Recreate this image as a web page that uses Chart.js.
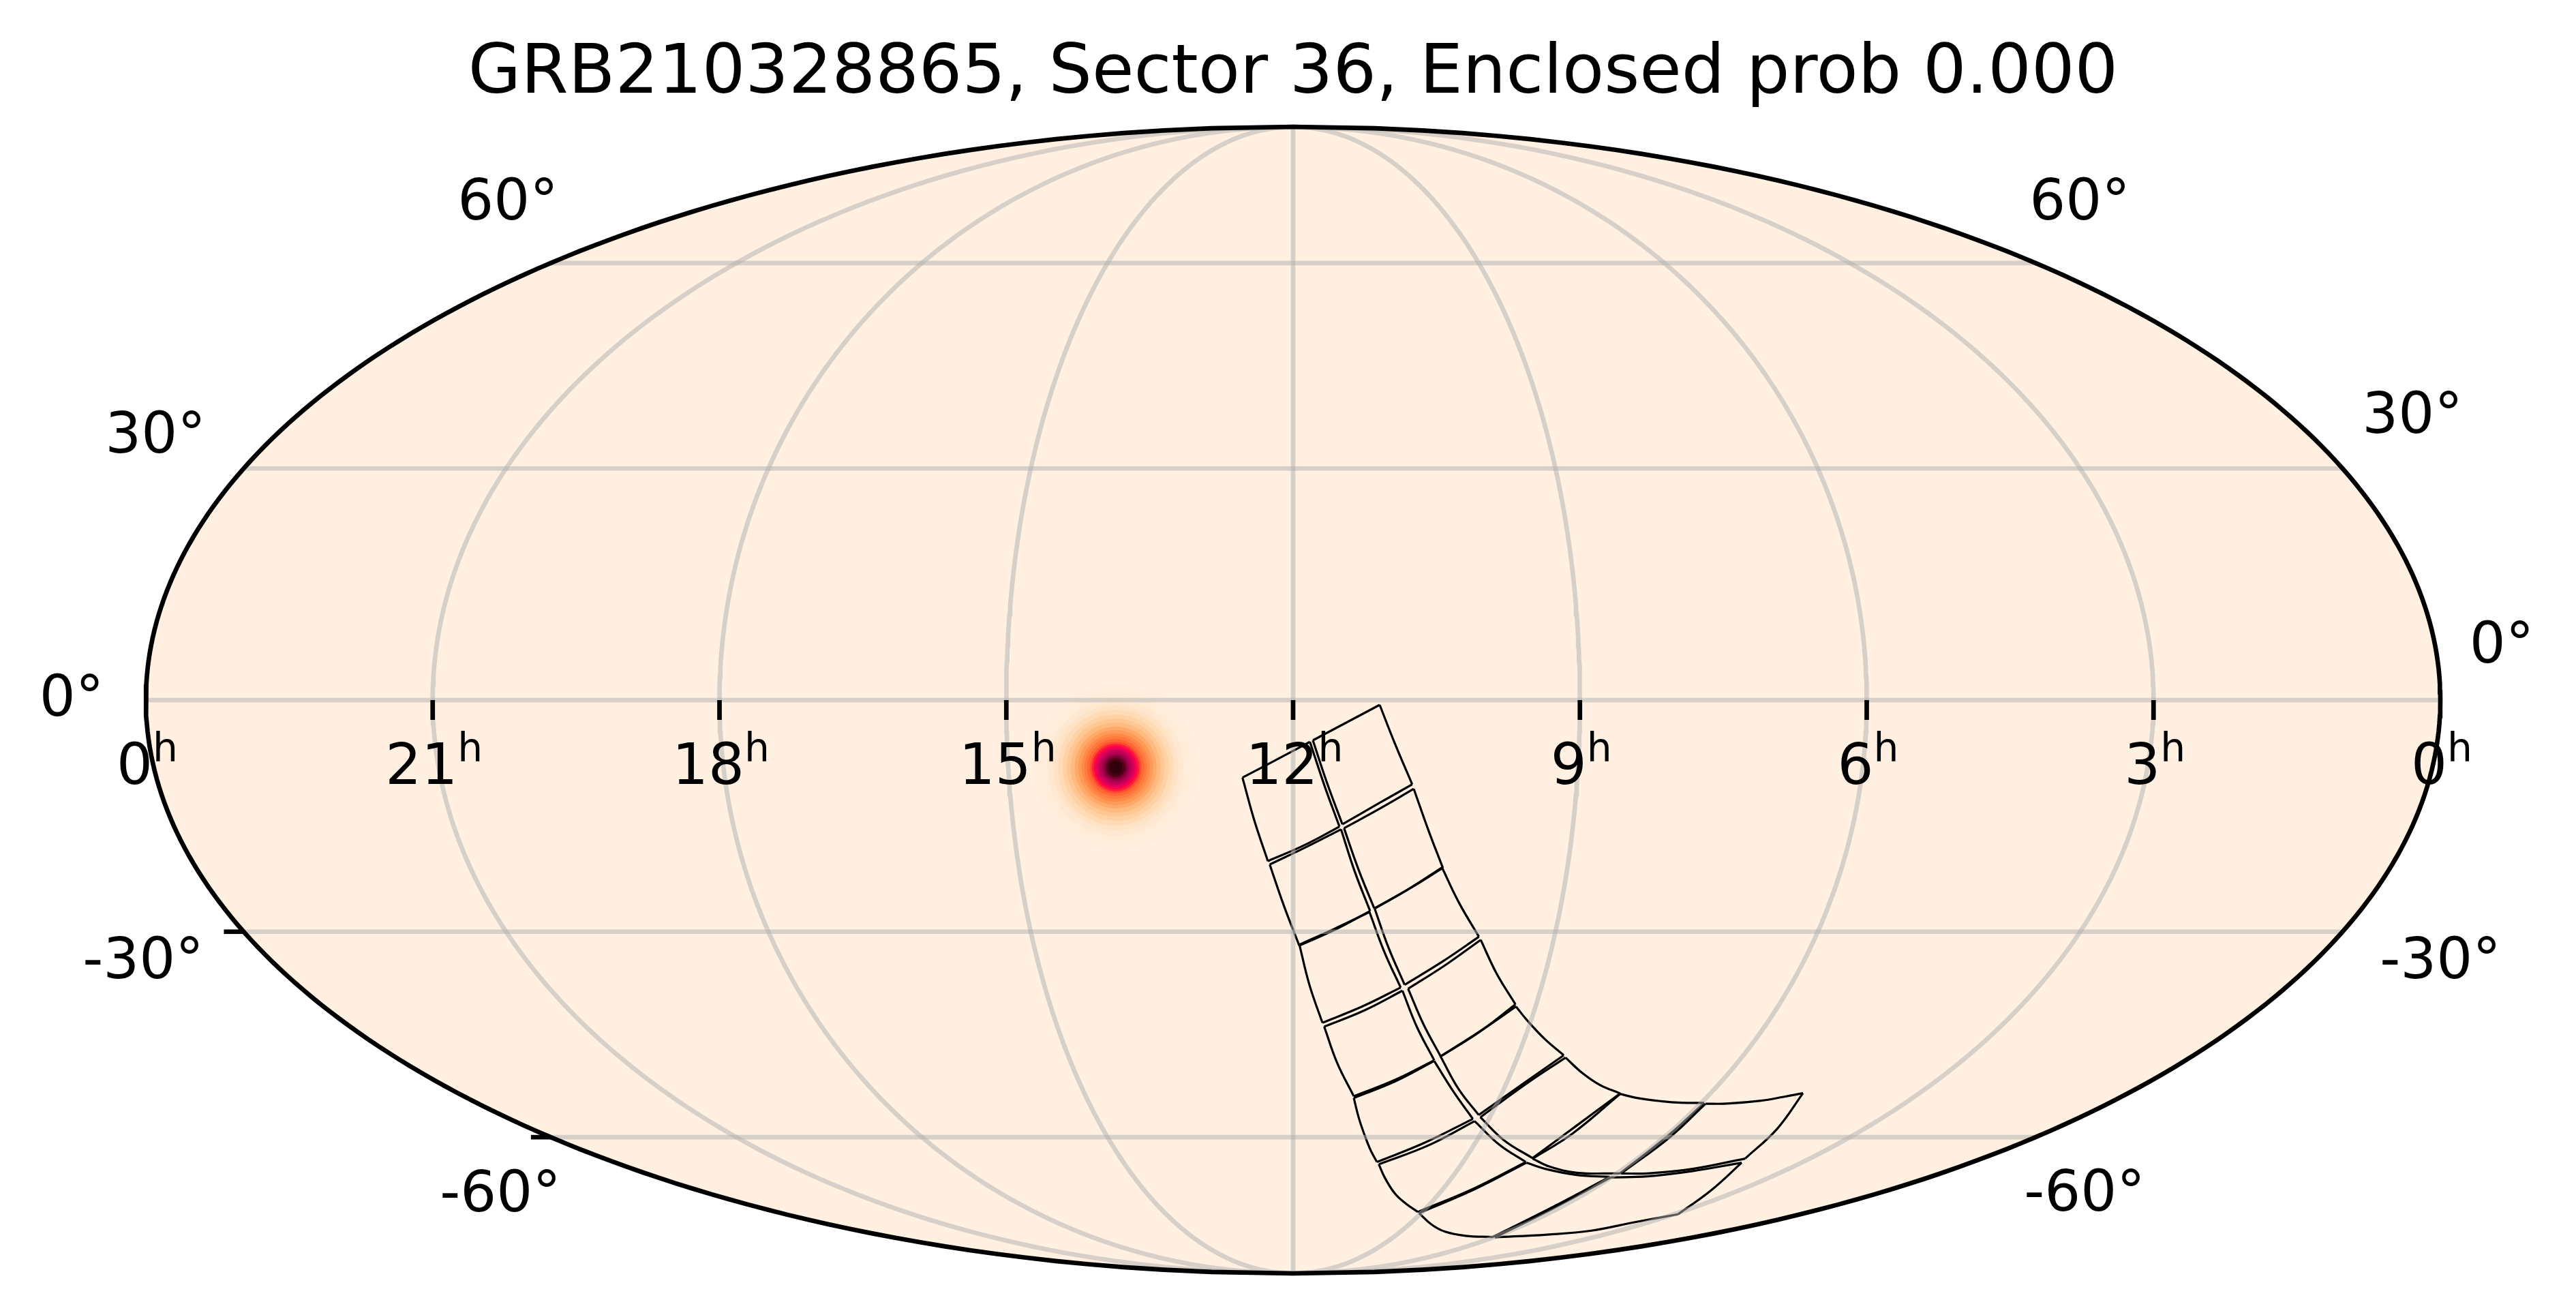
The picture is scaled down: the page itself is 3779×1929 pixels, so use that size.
<!DOCTYPE html>
<html>
<head>
<meta charset="utf-8">
<title>GRB210328865</title>
<script src="https://cdn.jsdelivr.net/npm/chart.js@4/dist/chart.umd.min.js"></script>
<style>
html, body { margin: 0; background: #fff; }
canvas { display: block; }
</style>
</head>
<body>
<canvas id="skyChart" width="3779" height="1929"></canvas>
<script>
const titleText = 'GRB210328865, Sector 36, Enclosed prob 0.000';

// graticule
const raGridHours = [3, 6, 9, 12, 15, 18, 21];
const decGridDegrees = [-60, -30, 0, 30, 60];
const raTickHours = [21, 18, 15, 12, 9, 6, 3];
const raLabelHours = [0, 21, 18, 15, 12, 9, 6, 3, 0];
const decTickDegrees = [-30, -60];

// dec labels in map units (x centre, y baseline)
const decLabelText = ['60°', '30°', '0°', '-30°', '-60°', '60°', '30°', '0°', '-30°', '-60°'];
const decLabelX = [-1152, -1669, -1792, -1687, -1163, 1154, 1642, 1773, 1683, 1161];
const decLabelY = [705, 363, -23, -408, -750, 705, 392, 55, -408, -749];

// probability blob, read ring by ring from the picture
const blobCentre = { x: -260.3, y: -99 };
const blobRadius = [135, 122, 110, 100, 92, 85, 78, 72, 66, 60, 55, 50, 46, 42, 38, 35, 32, 29, 26, 23, 20, 17, 14, 10];
const blobColour = ['#fff0e1', '#ffeedd', '#ffecd9', '#ffe8d1', '#ffe3c6', '#ffdbb6', '#ffd2a6', '#ffc792',
    '#ffba80', '#ffaa68', '#ff9a58', '#ff8a48', '#ff7a3e', '#ff6834', '#ff4c30', '#ff1e3c',
    '#ff0048', '#e00058', '#c80058', '#b80052', '#9a0046', '#780034', '#520018', '#32000a'];

// CCD outlines in map units: corner, edge middle(s), corner, edge middle(s) ...
const ccdA1 = [[-74.3, -113.7], [-25.3, -88], [24.7, -61.3], [45.7, -124.7], [68, -185.7], [16.3, -213], [-37, -236.3], [-57, -176.3]];
const ccdB1 = [[29, -59], [78, -33], [127, -7], [149.7, -64.7], [174.7, -123.7], [123, -153], [72.3, -182.3], [49.7, -121.3]];
const ccdA2 = [[-34.3, -241.3], [18, -216.3], [70.3, -189.7], [90.3, -251.3], [113, -309.7], [63, -336.3], [9, -360.3], [-13.7, -301.3]];
const ccdB2 = [[74.7, -188], [126.3, -159.7], [177, -130.3], [198, -189.7], [219.7, -246.3], [171.3, -276.3], [119, -305.7], [95.7, -248]];
const ccdA3 = [[9.2, -358.8], [60.3, -335.8], [112, -311], [133.6, -369], [157.8, -421.9], [101.7, -449.5], [43, -473.6], [23.9, -417.9]];
const ccdB3 = [[119.6, -306], [170, -277], [218.4, -245.7], [243.3, -297.3], [272.6, -347.3], [219.7, -383.4], [163.6, -417.9], [140, -363.4]];
const ccdA4 = [[45.6, -479.3], [104.9, -455.2], [160.4, -426.5], [181.4, -479.3], [207, -528.7], [149.6, -557.4], [89, -581.5], [64.7, -532.7]];
const ccdB4 = [[168.7, -423.6], [222.9, -389.2], [275.2, -351.9], [298.2, -400.7], [326.2, -446.6], [273.9, -486.8], [216.5, -523], [191, -475.3]];
const ccdA5 = [[89, -584], [149.7, -559.7], [207, -529.7], [236.3, -576.3], [263.7, -614.7], [193, -649.7], [123, -678], [[114, -661.3], [104.7, -638], [96.3, -613]]];
const ccdB5 = [[216.3, -523], [276.3, -484.7], [327, -449.7], [[343, -469.7], [369.7, -498]], [397, -521.3], [339.7, -561.3], [272.3, -609], [243, -571.3]];
const ccdA6 = [[125.7, -681.3], [199.7, -653], [266.3, -618], [303, -653], [341.3, -678], [266.3, -716.3], [183, -751.3], [[166.3, -739.7], [149.7, -724.7], [134.7, -701.3]]];
const ccdB6 = [[274.7, -612.3], [339.7, -564.7], [399.7, -524.7], [[423, -546.3], [449.7, -564.7]], [479.7, -577.3], [418, -623], [351.3, -672.3], [309.7, -646.3]];
const ccdA7 = [[184.7, -753], [266.3, -718], [342.3, -679], [[369.7, -688], [416.3, -697]], [464.7, -699.7], [379.7, -744.7], [293, -788], [[253, -786.3], [223, -780.3], [203, -769.7]]];
const ccdB7 = [[351.3, -673], [409.7, -636.3], [479.7, -578], [[503, -583.7], [539.7, -588.7], [569.7, -591]], [603, -591.3], [549.7, -639.7], [479.7, -694.7], [[416.3, -693.7], [376.3, -684.7]]];
const ccdA8 = [[466, -700.5], [[519.7, -699], [586.3, -691.3]], [658, -679], [613, -719.7], [564.7, -754.7], [[503, -766], [436, -779], [373, -784.5]], [296, -788.5], [380.7, -746.4]];
const ccdB8 = [[605, -592.5], [[636.3, -592.3], [686.3, -588], [719.7, -582.3]], [748, -577], [709.7, -629.7], [663, -673], [[586.3, -688], [519.7, -694.7]], [481.3, -694.7], [553, -641.3]];
const ccdList = [ccdA1, ccdB1, ccdA2, ccdB2, ccdA3, ccdB3, ccdA4, ccdB4, ccdA5, ccdB5, ccdA6, ccdB6, ccdA7, ccdB7, ccdA8, ccdB8];

const MAP_W = 1683;
const MAP_H = 841.5;
const MAP_FILL = 'rgb(255,240,225)';
const GRID = 'rgba(176,176,176,0.5)';
const FONT = '"DejaVu Sans"';

// Mollweide: sky position to map units
function project(lonDeg, decDeg) {
    const target = Math.PI * Math.sin(decDeg * Math.PI / 180);
    let lo = -Math.PI / 2, hi = Math.PI / 2;
    for (let i = 0; i < 50; i++) {
        const mid = (lo + hi) / 2;
        if (2 * mid + Math.sin(2 * mid) < target) lo = mid; else hi = mid;
    }
    const theta = (lo + hi) / 2;
    return { x: MAP_W * (lonDeg / 180) * Math.cos(theta), y: MAP_H * Math.sin(theta) };
}

function raToLon(hours) {
    return (12 - hours) * 15;
}

function meridian(lon) {
    const pts = [];
    for (let dec = -90; dec <= 90; dec += 1) pts.push(project(lon, dec));
    return pts;
}

function outline() {
    return meridian(180).concat(meridian(-180).reverse());
}

function lineSet(data, colour, width, order, extra) {
    return Object.assign({
        data: data,
        showLine: true,
        borderColor: colour,
        borderWidth: width,
        pointRadius: 0,
        order: order,
        clip: false
    }, extra || {});
}

const datasets = [];
datasets.push(lineSet(outline(), 'rgba(0,0,0,0)', 0, 100, { fill: 'shape', backgroundColor: MAP_FILL }));

datasets.push({
    data: blobRadius.map(() => blobCentre),
    pointRadius: blobRadius,
    pointBackgroundColor: blobColour,
    pointBorderWidth: 0,
    order: 90
});

ccdList.forEach(ccd => {
    for (let i = 0; i < 8; i += 2) {
        const middle = Array.isArray(ccd[i + 1][0]) ? ccd[i + 1] : [ccd[i + 1]];
        const edge = [ccd[i], ...middle, ccd[(i + 2) % 8]].map(p => ({ x: p[0], y: p[1] }));
        datasets.push(lineSet(edge, '#000', 3.2, 50, { tension: 0.4 }));
    }
});

raGridHours.forEach(h => datasets.push(lineSet(meridian(raToLon(h)), GRID, 6.67, 20)));
decGridDegrees.forEach(d => datasets.push(lineSet([project(-180, d), project(180, d)], GRID, 6.67, 20)));
datasets.push(lineSet(outline(), '#000', 6.67, 10));

const skyLabels = {
    id: 'skyLabels',
    afterDatasetsDraw(chart) {
        const { ctx, scales: { x, y } } = chart;
        const TICK = 29;
        ctx.save();
        ctx.strokeStyle = '#000';
        ctx.lineWidth = 6.67;
        raTickHours.forEach(h => {
            const p = project(raToLon(h), 0);
            ctx.beginPath();
            ctx.moveTo(x.getPixelForValue(p.x), y.getPixelForValue(0));
            ctx.lineTo(x.getPixelForValue(p.x), y.getPixelForValue(0) + TICK);
            ctx.stroke();
        });
        decTickDegrees.forEach(d => {
            const p = project(-180, d);
            ctx.beginPath();
            ctx.moveTo(x.getPixelForValue(p.x), y.getPixelForValue(p.y));
            ctx.lineTo(x.getPixelForValue(p.x) - TICK, y.getPixelForValue(p.y));
            ctx.stroke();
        });

        ctx.fillStyle = '#000';
        ctx.textBaseline = 'alphabetic';
        const base = y.getPixelForValue(0) + 123;
        raLabelHours.forEach((h, i) => {
            const lon = i === 0 ? -180 : (i === raLabelHours.length - 1 ? 180 : raToLon(h));
            const cx = x.getPixelForValue(project(lon, 0).x) + 2;
            ctx.textAlign = 'left';
            ctx.font = '83.3px ' + FONT;
            const num = String(h);
            const numW = ctx.measureText(num).width;
            ctx.font = '58.3px ' + FONT;
            const supW = ctx.measureText('h').width;
            const left = cx - (numW + supW) / 2;
            ctx.font = '83.3px ' + FONT;
            ctx.fillText(num, left, base);
            ctx.font = '58.3px ' + FONT;
            ctx.fillText('h', left + numW, base - 33);
        });

        ctx.font = '83.3px ' + FONT;
        ctx.textAlign = 'center';
        decLabelText.forEach((t, i) => {
            ctx.fillText(t, x.getPixelForValue(decLabelX[i]), y.getPixelForValue(decLabelY[i]));
        });
        ctx.restore();
    }
};

new Chart(document.getElementById('skyChart'), {
    type: 'scatter',
    data: { datasets: datasets },
    plugins: [skyLabels],
    options: {
        responsive: false,
        devicePixelRatio: 1,
        animation: false,
        events: [],
        layout: { autoPadding: false, padding: { left: 214, right: 199, top: 0, bottom: 61 } },
        scales: {
            x: { type: 'linear', min: -MAP_W, max: MAP_W, display: false },
            y: { type: 'linear', min: -MAP_H, max: MAP_H, display: false }
        },
        plugins: {
            legend: { display: false },
            tooltip: { enabled: false },
            title: {
                display: true,
                text: titleText,
                color: '#000',
                font: { family: FONT, size: 100, weight: 'normal', lineHeight: 1.2 },
                padding: { top: 50, bottom: 16 }
            }
        }
    }
});
</script>
</body>
</html>
